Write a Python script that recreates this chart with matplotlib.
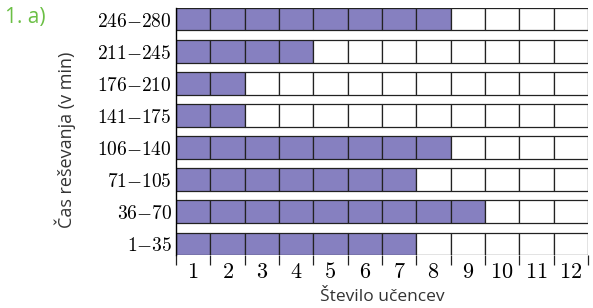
import matplotlib
matplotlib.use("Agg")
import matplotlib.pyplot as plt

# casovni intervali (od spodaj navzgor) in stevilo ucencev
intervals = ["1-35", "36-70", "71-105", "106-140", "141-175", "176-210", "211-245", "246-280"]
counts = [7, 9, 7, 8, 2, 2, 4, 8]
max_students = 12

bar_color = "#8680c0"
plt.rcParams["mathtext.fontset"] = "cm"

fig = plt.figure(figsize=(5.93, 3.08), dpi=100)
ax = fig.add_axes([176 / 593, 1 - 255 / 308, 412 / 593, 247 / 308])

h = 0.7
for row, n in enumerate(counts):
    for col in range(max_students):
        fc = bar_color if col < n else "white"
        ax.barh(row, 1, left=col, height=h, color=fc, edgecolor="#222222", linewidth=0.9)

ax.set_xlim(0, max_students)
ax.set_ylim(-h / 2, len(counts) - 1 + h / 2)

for s in ["top", "right", "bottom"]:
    ax.spines[s].set_visible(False)
ax.spines["left"].set_linewidth(1.0)

# major: meje celic, minor: oznake
ax.set_xticks(range(max_students + 1))
ax.set_xticklabels([])
ax.set_xticks([i + 0.5 for i in range(max_students)], minor=True)
ax.set_xticklabels([f"${i + 1}$" for i in range(max_students)], minor=True, fontsize=16)
ax.tick_params(axis="x", which="major", length=7, width=0.9, color="#222222")
ax.tick_params(axis="x", which="minor", length=0, pad=5)

ax.set_yticks(range(len(counts)))
ax.set_yticklabels(["$" + s.replace("-", "{-}") + "$" for s in intervals], fontsize=14)
ax.tick_params(axis="y", length=0, pad=3)

fig.text(382 / 593, 1 - 297 / 308, "Število učencev", ha="center", va="center",
         fontsize=12.5, family="Open Sans", color="#333333")
fig.text(65 / 593, 1 - 140 / 308, "Čas reševanja (v min)", ha="center", va="center",
         rotation=90, fontsize=13, family="Open Sans", color="#333333")
fig.text(5 / 593, 1 - 18 / 308, "1. a)", ha="left", va="center",
         fontsize=15, family="Open Sans", weight="medium", color="#6bbf45")

fig.savefig("out.png", dpi=100)
